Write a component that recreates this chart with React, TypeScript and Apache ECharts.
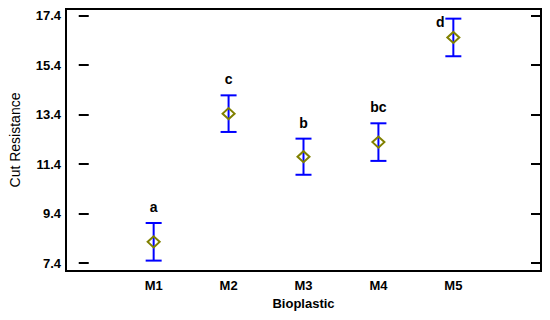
import React, { useEffect, useRef } from "react";
import * as echarts from "echarts";

const categories = ["M1", "M2", "M3", "M4", "M5"];
const means = [8.26, 13.44, 11.7, 12.29, 16.52];
const errors = [0.76, 0.74, 0.73, 0.76, 0.76];
const letters = ["a", "c", "b", "bc", "d"];
const yTicks = [7.4, 9.4, 11.4, 13.4, 15.4, 17.4];

const FONT = "'Liberation Sans', Arial, sans-serif";

export default function App() {
  const ref = useRef<HTMLDivElement>(null);
  useEffect(() => {
    if (!ref.current) return;
    const chart = echarts.init(ref.current, null, { renderer: "svg" });
    const xs = categories.map((_, i) => i + 1);
    const option: any = {
      animation: false,
      backgroundColor: "#ffffff",
      grid: {
        left: 66,
        right: 9,
        top: 9,
        bottom: 49,
        show: true,
        borderColor: "#000",
        borderWidth: 2,
        backgroundColor: "transparent",
      },
      xAxis: {
        type: "value",
        min: -0.17,
        max: 6.17,
        name: "Bioplastic",
        nameLocation: "middle",
        nameGap: 25,
        nameTextStyle: { fontFamily: FONT, fontWeight: "bold", fontSize: 13, color: "#000" },
        axisLine: { show: false },
        axisTick: { show: false },
        splitLine: { show: false },
        axisLabel: {
          customValues: xs,
          formatter: (v: number) => categories[Math.round(v) - 1] ?? "",
          fontFamily: FONT,
          fontWeight: "bold",
          fontSize: 13,
          color: "#000",
          margin: 8,
        },
      },
      yAxis: [
        {
          type: "value",
          min: 7.08,
          max: 17.67,
          name: "Cut Resistance",
          nameLocation: "middle",
          nameGap: 44,
          nameTextStyle: { fontFamily: FONT, fontSize: 14, color: "#000" },
          axisLine: { show: false },
          splitLine: { show: false },
          axisTick: {
            show: true,
            inside: true,
            length: 10,
            customValues: yTicks,
            lineStyle: { color: "#000", width: 2 },
          },
          axisLabel: {
            customValues: yTicks,
            formatter: (v: number) => v.toFixed(1),
            fontFamily: FONT,
            fontWeight: "bold",
            fontSize: 13,
            color: "#000",
            margin: 5,
          },
        },
        {
          type: "value",
          position: "right",
          min: 7.08,
          max: 17.67,
          axisLine: { show: false },
          splitLine: { show: false },
          axisLabel: { show: false },
          axisTick: {
            show: true,
            inside: true,
            length: 10,
            customValues: yTicks,
            lineStyle: { color: "#000", width: 2 },
          },
        },
      ],
      series: [
        {
          type: "custom",
          z: 2,
          data: xs.map((x, i) => [x, means[i], errors[i], i]),
          renderItem: (params: any, api: any) => {
            const x = api.value(0);
            const m = api.value(1);
            const e = api.value(2);
            const idx = api.value(3);
            const top = api.coord([x, m + e]);
            const bot = api.coord([x, m - e]);
            const hw = 8;
            const st = { stroke: "#0000ff", lineWidth: 2 };
            const isLast = idx === letters.length - 1;
            return {
              type: "group",
              children: [
                { type: "line", shape: { x1: top[0], y1: top[1], x2: bot[0], y2: bot[1] }, style: st },
                { type: "line", shape: { x1: top[0] - hw, y1: top[1], x2: top[0] + hw, y2: top[1] }, style: st },
                { type: "line", shape: { x1: bot[0] - hw, y1: bot[1], x2: bot[0] + hw, y2: bot[1] }, style: st },
                {
                  type: "text",
                  x: isLast ? top[0] - 13 : top[0],
                  y: isLast ? top[1] + 3 : top[1] - 16,
                  style: {
                    text: letters[idx],
                    fontFamily: FONT,
                    fontWeight: "bold",
                    fontSize: 14,
                    fill: "#000",
                    align: "center",
                    verticalAlign: "middle",
                  },
                },
              ],
            };
          },
        },
        {
          type: "scatter",
          z: 3,
          symbol: "diamond",
          symbolSize: [12, 11],
          data: xs.map((x, i) => [x, means[i]]),
          itemStyle: { color: "rgba(0,0,0,0)", borderColor: "#808000", borderWidth: 2, opacity: 1 },
        },
      ],
    };
    chart.setOption(option);
    return () => chart.dispose();
  }, []);
  return (
    <div
      ref={ref}
      style={{ position: "fixed", left: 0, top: 0, width: 550, height: 320, background: "#fff" }}
    />
  );
}
